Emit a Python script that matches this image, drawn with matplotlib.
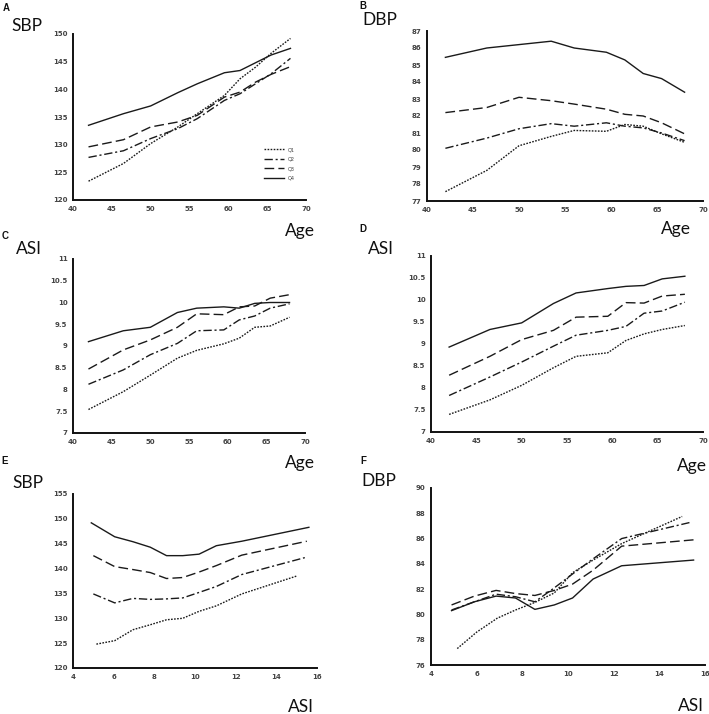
import matplotlib
matplotlib.use("Agg")
import matplotlib.pyplot as plt

# ---------------- data ----------------
quartiles = ["Q1", "Q2", "Q3", "Q4"]

age = [42, 46.5, 50, 53.5, 56, 59.5, 61.5, 63.5, 65.5, 68]

# Panel A: SBP vs Age
sbp_age_q1 = [123.4, 126.6, 130.2, 133.2, 135.6, 138.9, 141.9, 144.0, 146.5, 149.2]
sbp_age_q2 = [127.7, 128.9, 131.1, 132.9, 134.7, 138.0, 139.2, 141.0, 142.8, 145.6]
sbp_age_q3 = [129.6, 130.9, 133.2, 134.1, 135.3, 138.6, 139.5, 141.3, 142.7, 144.1]
sbp_age_q4 = [133.5, 135.6, 137.0, 139.4, 141.0, 143.0, 143.4, 144.8, 146.2, 147.4]

# Panel B: DBP vs Age
dbp_age_q1 = [77.55, 78.8, 80.25, 80.8, 81.15, 81.1, 81.5, 81.4, 80.95, 80.45]
dbp_age_q2 = [80.1, 80.7, 81.25, 81.55, 81.4, 81.6, 81.4, 81.3, 81.0, 80.55]
dbp_age_q3 = [82.2, 82.5, 83.1, 82.9, 82.7, 82.4, 82.1, 82.0, 81.6, 80.95]
dbp_age_q4 = [85.45, 86.0, 86.2, 86.4, 86.0, 85.75, 85.3, 84.5, 84.2, 83.4]

# Panel C: ASI vs Age
asi_c_q1 = [7.54, 7.95, 8.33, 8.72, 8.9, 9.05, 9.18, 9.43, 9.46, 9.66]
asi_c_q2 = [8.12, 8.45, 8.8, 9.06, 9.35, 9.37, 9.6, 9.69, 9.87, 9.97]
asi_c_q3 = [8.47, 8.91, 9.14, 9.43, 9.74, 9.72, 9.9, 9.92, 10.1, 10.18]
asi_c_q4 = [9.1, 9.35, 9.43, 9.77, 9.87, 9.9, 9.87, 9.98, 10.0, 10.0]

# Panel D: ASI vs Age
asi_d_q1 = [7.4, 7.73, 8.06, 8.46, 8.72, 8.8, 9.08, 9.23, 9.33, 9.42]
asi_d_q2 = [7.83, 8.25, 8.59, 8.95, 9.2, 9.31, 9.4, 9.7, 9.75, 9.95]
asi_d_q3 = [8.29, 8.72, 9.1, 9.31, 9.61, 9.63, 9.94, 9.93, 10.09, 10.13]
asi_d_q4 = [8.93, 9.33, 9.48, 9.92, 10.16, 10.26, 10.31, 10.33, 10.48, 10.54]

# Panel E: SBP vs ASI
asi_e_q1 = [5.15, 6.05, 6.95, 7.8, 8.6, 9.4, 10.2, 11.05, 12.3, 15.0]
asi_e_q2 = [5.0, 6.05, 6.95, 7.8, 8.6, 9.4, 10.2, 11.05, 12.3, 15.4]
asi_e_q3 = [5.0, 6.05, 6.95, 7.8, 8.6, 9.4, 10.2, 11.05, 12.3, 15.5]
asi_e_q4 = [4.9, 6.05, 6.95, 7.8, 8.6, 9.4, 10.2, 11.05, 12.3, 15.6]
sbp_asi_q1 = [124.8, 125.5, 127.7, 128.7, 129.7, 130.0, 131.4, 132.5, 134.9, 138.5]
sbp_asi_q2 = [134.9, 133.1, 134.0, 133.8, 133.9, 134.1, 135.2, 136.4, 138.8, 142.2]
sbp_asi_q3 = [142.6, 140.4, 139.8, 139.2, 138.0, 138.2, 139.3, 140.6, 142.7, 145.5]
sbp_asi_q4 = [149.2, 146.4, 145.4, 144.3, 142.6, 142.6, 142.9, 144.6, 145.5, 148.3]

# Panel F: DBP vs ASI
asi_f_q1 = [5.15, 6.0, 6.9, 7.7, 8.55, 9.4, 10.2, 11.1, 12.35, 15.0]
asi_f_q2 = [4.9, 5.9, 6.85, 7.7, 8.55, 9.4, 10.2, 11.1, 12.35, 15.4]
asi_f_q3 = [4.9, 5.9, 6.85, 7.7, 8.55, 9.4, 10.2, 11.1, 12.35, 15.5]
asi_f_q4 = [4.9, 5.9, 6.85, 7.7, 8.55, 9.4, 10.2, 11.1, 12.35, 15.5]
dbp_asi_q1 = [77.3, 78.6, 79.7, 80.35, 80.95, 81.7, 83.3, 84.3, 85.6, 87.75]
dbp_asi_q2 = [80.35, 81.0, 81.6, 81.4, 81.0, 82.1, 83.2, 84.4, 86.0, 87.3]
dbp_asi_q3 = [80.75, 81.45, 81.9, 81.65, 81.5, 81.9, 82.4, 83.5, 85.4, 85.9]
dbp_asi_q4 = [80.3, 81.0, 81.45, 81.3, 80.4, 80.75, 81.3, 82.8, 83.85, 84.3]

# ---------------- style ----------------
line_styles = [(0, (1.2, 1.0)), (0, (6, 2, 1.5, 2)), (0, (7, 3)), "-"]
line_color = "#1a1a1a"
tick_color = "#444444"

fig = plt.figure(figsize=(7.09, 7.14), dpi=100)
W, H = 709, 714


def add_ax(l, r, t, b):
    return fig.add_axes([l / W, 1 - b / H, (r - l) / W, (b - t) / H])


def style_ax(ax, xlim, ylim, xticks, yticks, yfmt=None):
    ax.set_xlim(*xlim)
    ax.set_ylim(*ylim)
    ax.set_xticks(xticks)
    ax.set_yticks(yticks)
    if yfmt is not None:
        ax.set_yticklabels([yfmt(v) for v in yticks])
    for s in ["top", "right"]:
        ax.spines[s].set_visible(False)
    for s in ["left", "bottom"]:
        ax.spines[s].set_linewidth(1.4)
        ax.spines[s].set_color("#111111")
    ax.tick_params(length=0, labelsize=5, colors=tick_color, pad=4)
    for lab in ax.get_xticklabels() + ax.get_yticklabels():
        lab.set_fontweight("bold")


def plot_series(ax, xs_list, ys_list, labels=None):
    for i, (xs, ys) in enumerate(zip(xs_list, ys_list)):
        ax.plot(xs, ys, linestyle=line_styles[i], color=line_color, lw=1.0,
                label=(labels[i] if labels else None))


num_fmt = lambda v: ("%g" % v)

# Panel A
axA = add_ax(73, 306, 34, 200)
plot_series(axA, [age] * 4, [sbp_age_q1, sbp_age_q2, sbp_age_q3, sbp_age_q4], quartiles)
style_ax(axA, (40, 70), (120, 150), range(40, 71, 5), range(120, 151, 5))
axA.legend(loc="lower right", bbox_to_anchor=(0.97, 0.09), fontsize=3.6, frameon=False,
           handlelength=4, labelspacing=0.9, labelcolor=tick_color)

# Panel B
axB = add_ax(427, 703, 31, 201)
plot_series(axB, [age] * 4, [dbp_age_q1, dbp_age_q2, dbp_age_q3, dbp_age_q4])
style_ax(axB, (40, 70), (77, 87), range(40, 71, 5), range(77, 88, 1))

# Panel C
axC = add_ax(73, 305, 259, 433)
plot_series(axC, [age] * 4, [asi_c_q1, asi_c_q2, asi_c_q3, asi_c_q4])
style_ax(axC, (40, 70), (7, 11), range(40, 71, 5), [7, 7.5, 8, 8.5, 9, 9.5, 10, 10.5, 11], num_fmt)

# Panel D
axD = add_ax(431, 703, 256, 432)
plot_series(axD, [age] * 4, [asi_d_q1, asi_d_q2, asi_d_q3, asi_d_q4])
style_ax(axD, (40, 70), (7, 11), range(40, 71, 5), [7, 7.5, 8, 8.5, 9, 9.5, 10, 10.5, 11], num_fmt)

# Panel E
axE = add_ax(73, 317, 494, 668)
plot_series(axE, [asi_e_q1, asi_e_q2, asi_e_q3, asi_e_q4],
            [sbp_asi_q1, sbp_asi_q2, sbp_asi_q3, sbp_asi_q4])
style_ax(axE, (4, 16), (120, 155), range(4, 17, 2), range(120, 156, 5))

# Panel F
axF = add_ax(431, 705, 488, 665)
plot_series(axF, [asi_f_q1, asi_f_q2, asi_f_q3, asi_f_q4],
            [dbp_asi_q1, dbp_asi_q2, dbp_asi_q3, dbp_asi_q4])
style_ax(axF, (4, 16), (76, 90), range(4, 17, 2), range(76, 91, 2))

# ---------------- labels ----------------
def ftext(x, y, s, size, weight="normal", family="Lato", ha="center"):
    fig.text(x / W, 1 - y / H, s, fontsize=size, fontweight=weight, family=family,
             ha=ha, va="center", color="#111111")

for (x, y, s) in [(6, 8, "A"), (363, 6, "B"), (5, 236, "C"), (363, 229, "D"),
                  (5, 461, "E"), (363, 461, "F")]:
    ftext(x, y, s, 7, weight="bold", family="Liberation Sans")

for (x, y, s) in [(27, 26, "SBP"), (380, 20, "DBP"), (29, 249, "ASI"), (381, 249, "ASI"),
                  (28, 483, "SBP"), (379, 481, "DBP"),
                  (300, 231, "Age"), (676, 229, "Age"), (300, 463, "Age"), (692, 466, "Age"),
                  (301, 707, "ASI"), (691, 706, "ASI")]:
    ftext(x, y, s, 12.5)

fig.savefig("out.png", dpi=100)
